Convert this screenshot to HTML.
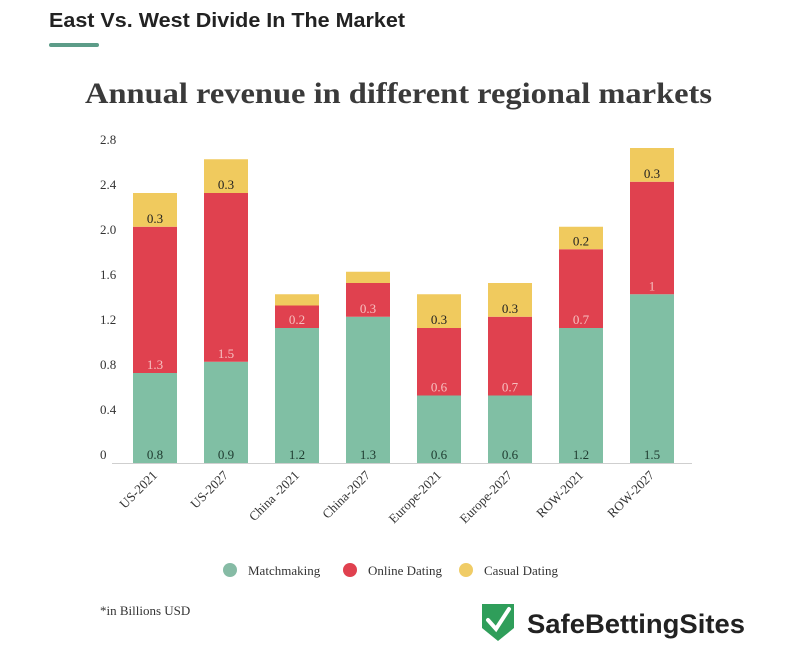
<!DOCTYPE html>
<html><head><meta charset="utf-8"><style>
html,body{margin:0;padding:0;background:#fff;width:812px;height:645px;overflow:hidden}
svg{display:block}
</style></head><body>
<svg id="chart" width="812" height="645" viewBox="0 0 812 645" xmlns="http://www.w3.org/2000/svg">
<text x="49" y="27" font-family="Liberation Sans, sans-serif" font-weight="bold" font-size="20" fill="#222" textLength="356" lengthAdjust="spacingAndGlyphs">East Vs. West Divide In The Market</text>
<rect x="49" y="43" width="50" height="4" rx="2" fill="#5c9c88"/>
<text x="85" y="103" font-family="Liberation Serif, serif" font-weight="bold" font-size="30" fill="#3a3a3a" textLength="627" lengthAdjust="spacingAndGlyphs">Annual revenue in different regional markets</text>
<g id="yaxis"></g>
<line x1="112" y1="463.5" x2="692" y2="463.5" stroke="#cfcfcf" stroke-width="1"/>
<g id="bars"></g>
<g id="xlabels"></g>
<g>
<g><circle cx="230" cy="570" r="7" fill="#86bba5"/><text x="248" y="575" font-family="Liberation Serif, serif" font-size="13" fill="#333">Matchmaking</text></g>
<g><circle cx="350" cy="570" r="7" fill="#e0414f"/><text x="368" y="575" font-family="Liberation Serif, serif" font-size="13" fill="#333">Online Dating</text></g>
<g><circle cx="466" cy="570" r="7" fill="#f0cc66"/><text x="484" y="575" font-family="Liberation Serif, serif" font-size="13" fill="#333">Casual Dating</text></g>
</g>
<text x="100" y="615" font-family="Liberation Serif, serif" font-size="13" fill="#333">*in Billions USD</text>
<g>
<path d="M482 604 L514 604 L514 628 L498 641 L482 628 Z" fill="#2f9e5a"/>
<path d="M488 620 L496 629 L509 609" stroke="#fff" stroke-width="4" fill="none" stroke-linecap="round"/>
<text x="527" y="633" font-family="Liberation Sans, sans-serif" font-weight="bold" font-size="27" fill="#222" textLength="218" lengthAdjust="spacingAndGlyphs">SafeBettingSites</text>
</g>
</svg>
<script>
const categories = ["US-2021","US-2027","China -2021","China-2027","Europe-2021","Europe-2027","ROW-2021","ROW-2027"];
const matchmaking = [0.8,0.9,1.2,1.3,0.6,0.6,1.2,1.5];
const onlineDating = [1.3,1.5,0.2,0.3,0.6,0.7,0.7,1];
const casualDating = [0.3,0.3,0.1,0.1,0.3,0.3,0.2,0.3];
const showCasualLabel = [true,true,false,false,true,true,true,true];
const yTicks = [0,0.4,0.8,1.2,1.6,2.0,2.4,2.8];
const yTickLabels = ["0","0.4","0.8","1.2","1.6","2.0","2.4","2.8"];

const NS="http://www.w3.org/2000/svg";
const base=463, ppu=112.5, x0=155, step=71, bw=44;
function y(v){return base - v*ppu;}
function xc(i){return x0 + i*step;}
function mk(tag,attrs,parent){const e=document.createElementNS(NS,tag);for(const k in attrs)e.setAttribute(k,attrs[k]);parent.appendChild(e);return e;}

const ya=document.getElementById('yaxis');
yTicks.forEach((t,i)=>{
  const tx=mk('text',{x:100,y:y(t)-4,'font-family':'Liberation Serif, serif','font-size':13,fill:'#333'},ya);
  
  
  tx.textContent=yTickLabels[i];
});

const bars=document.getElementById('bars');
const series=[
  {vals:matchmaking,color:'#80bfa4',lab:'#1f3b30',name:'matchmaking'},
  {vals:onlineDating,color:'#e0414f',lab:'#f6c0c0',name:'online-dating'},
  {vals:casualDating,color:'#f0ca5e',lab:'#222',name:'casual-dating'}
];
categories.forEach((c,i)=>{
  let acc=0;
  series.forEach((s,si)=>{
    const v=s.vals[i];
    const r=mk('rect',{x:xc(i)-bw/2,y:y(acc+v),width:bw,height:v*ppu,fill:s.color},bars);
    
    
    if(!(si===2 && !showCasualLabel[i])){
      const t=mk('text',{x:xc(i),y:y(acc)-4,'text-anchor':'middle','font-family':'Liberation Serif, serif','font-size':13,fill:s.lab},bars);
      
      
      t.textContent=String(v);
    }
    acc+=v;
  });
});

const xl=document.getElementById('xlabels');
categories.forEach((c,i)=>{
  const t=mk('text',{x:xc(i)+3,y:476,'text-anchor':'end','font-family':'Liberation Serif, serif','font-size':13,fill:'#333',transform:'rotate(-45 '+(xc(i)+3)+' 476)'},xl);
  
  
  t.textContent=c;
});
</script>
</body></html>
